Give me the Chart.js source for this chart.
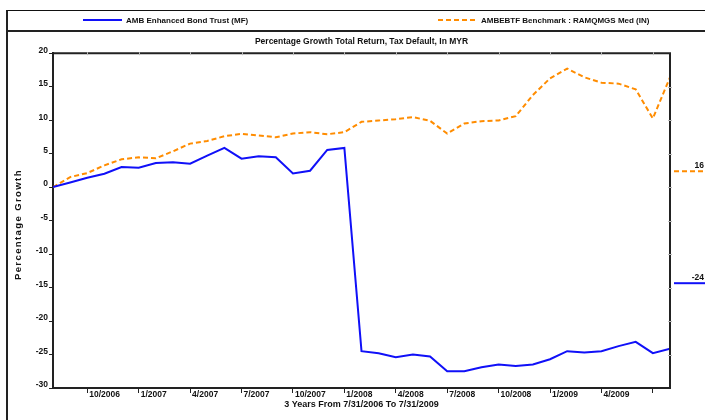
<!DOCTYPE html>
<html>
<head>
<meta charset="utf-8">
<script src="https://cdn.jsdelivr.net/npm/chart.js@4.4.0/dist/chart.umd.min.js"></script>
<style>
  body { margin: 0; background: #fff; }
  #wrap { position: relative; width: 705px; height: 420px; overflow: hidden;
          font-family: "Liberation Sans", Arial, sans-serif; }
  #chart { position: absolute; left: 0; top: 0; }
  .frame { position: absolute; left: 6px; top: 10px; width: 760px; height: 460px;
           border-left: 2px solid #222; border-top: 1px solid #111; }
  .sep { position: absolute; left: 6px; top: 30px; width: 760px; border-top: 2px solid #222; }
  .lg { position: absolute; top: 15px; font-weight: bold; font-size: 8px; line-height: 12px;
        color: #111; white-space: nowrap; }
  .lg .sw { display: inline-block; width: 39px; height: 2px; vertical-align: middle;
            margin-right: 4px; position: relative; top: -1px; }
</style>
</head>
<body>
<div id="wrap">
  <canvas id="chart" width="705" height="420"></canvas>
  <div class="frame"></div>
  <div class="sep"></div>
  <div class="lg" id="lg1" style="left:83px"><span class="sw"></span><span class="tx"></span></div>
  <div class="lg" id="lg2" style="left:438px"><span class="sw"></span><span class="tx"></span></div>
</div>

<script>
// ---- data (monthly, 7/31/2006 .. 7/31/2009, month index 0..36) ----
var fundName = "AMB Enhanced Bond Trust (MF)";
var benchName = "AMBEBTF Benchmark : RAMQMGS Med (IN)";

var fundValues = [0, 0.7, 1.4, 2.0, 3.0, 2.9, 3.6, 3.7, 3.5, 4.7, 5.85, 4.25, 4.6, 4.45, 2.05, 2.45, 5.55, 5.85,
  -24.5, -24.8, -25.4, -25.0, -25.3, -27.5, -27.5, -26.9, -26.5, -26.7, -26.5, -25.7, -24.5, -24.7, -24.5,
  -23.75, -23.1, -24.8, -24.15];

var benchValues = [0, 1.5, 2.1, 3.25, 4.15, 4.45, 4.3, 5.35, 6.5, 6.9, 7.6, 7.95, 7.7, 7.45, 8.0, 8.2, 7.9, 8.2,
  9.75, 9.95, 10.15, 10.45, 9.9, 8.0, 9.5, 9.85, 9.95, 10.6, 13.75, 16.25, 17.7, 16.4, 15.6, 15.45, 14.6,
  10.25, 16.4];

// x ticks sit on the first day of each quarter (months after 7/31/2006)
var tickMonths = [2, 5, 8, 11, 14, 17, 20, 23, 26, 29, 32, 35];
var tickLabels = ["10/2006", "1/2007", "4/2007", "7/2007", "10/2007", "1/2008", "4/2008",
  "7/2008", "10/2008", "1/2009", "4/2009", ""];

var fundColor = "#1010f8";
var benchColor = "#ff8c00";
var FONT = '"Liberation Sans", Arial, sans-serif';

function toPoints(values) {
  return values.map(function (v, i) { return { x: i, y: v }; });
}

// legend (html)
document.querySelector("#lg1 .tx").textContent = fundName;
document.querySelector("#lg1 .sw").style.background = fundColor;
document.querySelector("#lg2 .tx").textContent = benchName;
document.querySelector("#lg2 .sw").style.background =
  "repeating-linear-gradient(to right," + benchColor + " 0 5px, transparent 5px 8px)";

// box edges, small ticks, end value labels
var extras = {
  id: "extras",
  beforeDraw: function (chart) {
    var ys = chart.scales.y;
    if (!ys._spaced) {
      var orig = ys.drawTitle;
      ys.drawTitle = function () {
        this.ctx.save();
        this.ctx.letterSpacing = "1.4px";
        this.ctx.translate(0, 4);
        orig.apply(this, arguments);
        this.ctx.restore();
      };
      ys._spaced = true;
    }
  },
  afterDraw: function (chart) {
    var c = chart.ctx, a = chart.chartArea;
    var xs = chart.scales.x, ys = chart.scales.y;
    c.save();
    c.strokeStyle = "#222";
    c.lineWidth = 2;
    c.beginPath();
    c.moveTo(a.left, a.top); c.lineTo(a.right, a.top); c.lineTo(a.right, a.bottom);
    c.stroke();
    c.strokeStyle = "#bbb";
    c.lineWidth = 1;
    tickMonths.forEach(function (m) {
      var px = Math.round(xs.getPixelForValue(m)) + 0.5;
      c.beginPath(); c.moveTo(px, a.top - 1); c.lineTo(px, a.top + 2); c.stroke();
    });
    for (var v = -25; v < 20; v += 5) {
      var py = Math.round(ys.getPixelForValue(v)) + 0.5;
      c.beginPath(); c.moveTo(a.right - 2, py); c.lineTo(a.right + 2, py); c.stroke();
    }
    // end values to the right of the plot
    var rows = [{ ds: 1, off: 118 }, { ds: 0, off: 230 }];
    c.font = "bold 8.5px " + FONT;
    c.textAlign = "right";
    c.textBaseline = "alphabetic";
    rows.forEach(function (r) {
      var ds = chart.data.datasets[r.ds];
      var y = a.top + r.off;
      c.strokeStyle = ds.borderColor;
      c.lineWidth = 2;
      c.setLineDash(ds.borderDash || []);
      c.beginPath(); c.moveTo(a.right + 4, y); c.lineTo(chart.width, y); c.stroke();
      c.setLineDash([]);
      c.fillStyle = "#111";
      var last = ds.data[ds.data.length - 1].y;
      c.fillText(String(Math.round(last)), chart.width - 1, y - 3);
    });
    c.restore();
  }
};

Chart.defaults.font.family = FONT;
Chart.defaults.font.weight = "bold";
Chart.defaults.color = "#111";

var ctx = document.getElementById("chart").getContext("2d");
var myChart = new Chart(ctx, {
  type: "line",
  data: {
    datasets: [
      { label: fundName, data: toPoints(fundValues), borderColor: fundColor, borderWidth: 2,
        pointRadius: 0, tension: 0, fill: false },
      { label: benchName, data: toPoints(benchValues), borderColor: benchColor, borderWidth: 2,
        borderDash: [5, 3], pointRadius: 0, tension: 0, fill: false }
    ]
  },
  options: {
    responsive: false,
    animation: false,
    devicePixelRatio: 1,
    layout: { padding: { top: 32, left: 0, right: 35, bottom: 0 } },
    plugins: {
      legend: { display: false },
      tooltip: { enabled: false },
      title: {
        display: true,
        fullSize: false,
        text: "Percentage Growth Total Return, Tax Default, In MYR",
        font: { size: 8.5, weight: "bold" },
        padding: { top: 5, bottom: 6 },
        color: "#111"
      }
    },
    scales: {
      x: {
        type: "linear", min: 0, max: 36,
        afterBuildTicks: function (s) {
          s.ticks = tickMonths.map(function (m) { return { value: m }; });
        },
        ticks: {
          autoSkip: false, maxRotation: 0, minRotation: 0, align: "start",
          labelOffset: 2, padding: -3, font: { size: 8.5 },
          callback: function (v) {
            var i = tickMonths.indexOf(v);
            return i < 0 ? "" : tickLabels[i];
          }
        },
        grid: { drawOnChartArea: false, tickLength: 5, color: "#222" },
        border: { display: true, color: "#222", width: 2 },
        title: { display: true, text: "3 Years From 7/31/2006 To 7/31/2009",
                 font: { size: 9 }, padding: { top: 0, bottom: 10 } },
        afterFit: function (s) { s.height = 32; }
      },
      y: {
        min: -30, max: 20,
        ticks: { stepSize: 5, labelOffset: -3, padding: 1, font: { size: 8.5 } },
        grid: { drawOnChartArea: false, tickLength: 4, color: "#222" },
        border: { display: true, color: "#222", width: 2 },
        title: { display: true, text: "Percentage Growth", font: { size: 9.5 },
                 padding: { top: 12.3, bottom: 0 } },
        afterFit: function (s) { s.width = 53; }
      }
    }
  },
  plugins: [extras]
});
</script>
</body>
</html>
